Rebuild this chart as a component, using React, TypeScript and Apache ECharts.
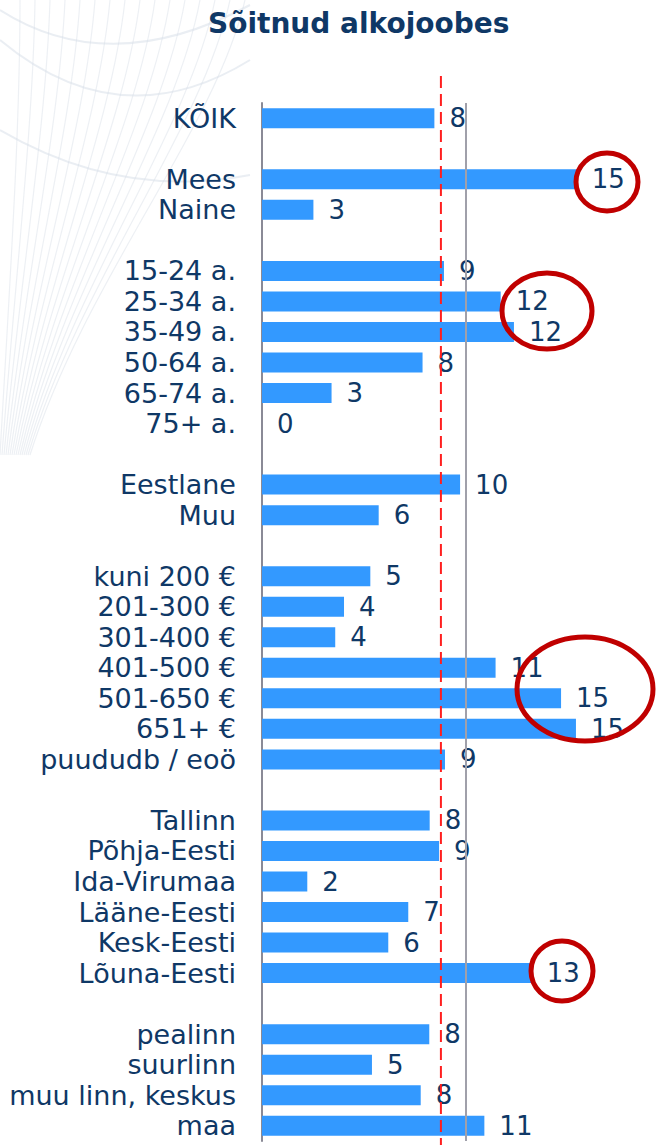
import React, { useEffect, useRef } from 'react';
import * as echarts from 'echarts';

const FONT = 'Verdana, "DejaVu Sans", sans-serif';
const NAVY = '#0F3866';

// Groups of categories and their values (percent)
const totalCats = ['KÕIK'];
const totalVals = [8.45];
const sexCats = ['Mees', 'Naine'];
const sexVals = [15.43, 2.52];
const ageCats = ['15-24 a.', '25-34 a.', '35-49 a.', '50-64 a.', '65-74 a.', '75+ a.'];
const ageVals = [8.92, 11.7, 12.35, 7.87, 3.41, 0];
const nationCats = ['Eestlane', 'Muu'];
const nationVals = [9.71, 5.72];
const incomeCats = ['kuni 200 €', '201-300 €', '301-400 €', '401-500 €', '501-650 €', '651+ €', 'puududb / eoö'];
const incomeVals = [5.31, 4.02, 3.59, 11.45, 14.66, 15.39, 8.97];
const regionCats = ['Tallinn', 'Põhja-Eesti', 'Ida-Virumaa', 'Lääne-Eesti', 'Kesk-Eesti', 'Lõuna-Eesti'];
const regionVals = [8.22, 8.68, 2.22, 7.17, 6.19, 13.22];
const settleCats = ['pealinn', 'suurlinn', 'muu linn, keskus', 'maa'];
const settleVals = [8.2, 5.39, 7.78, 10.9];

const REF_VALUE = 8.77; // red dashed reference
const GRAY_LINE_VALUE = 10;
const X_MAX = 18;

const groups: [string[], number[]][] = [
  [totalCats, totalVals],
  [sexCats, sexVals],
  [ageCats, ageVals],
  [nationCats, nationVals],
  [incomeCats, incomeVals],
  [regionCats, regionVals],
  [settleCats, settleVals],
];

const categories: string[] = [];
const values: (number | string)[] = [];
groups.forEach(([c, v], gi) => {
  if (gi > 0) {
    categories.push(' '.repeat(gi));
    values.push('-');
  }
  c.forEach((name, i) => {
    categories.push(name);
    values.push(v[i]);
  });
});

function buildBackground() {
  const els: any[] = [];
  for (let i = 0; i < 16; i++) {
    els.push({
      type: 'bezierCurve',
      silent: true,
      z: -10,
      shape: {
        x1: i * 2,
        y1: 455,
        x2: 20 + i * 15,
        y2: 0,
        cpx1: 10 + i * 5,
        cpy1: 280,
        cpx2: 20 + i * 13,
        cpy2: 130,
      },
      style: { stroke: 'rgba(214,221,231,0.45)', lineWidth: 1.2, fill: 'none' },
    });
  }
  const arcs = [
    [0, 10, 110, 80, 250, 5],
    [0, 40, 120, 140, 250, 60],
    [0, 130, 120, 200, 250, 175],
  ];
  arcs.forEach(([x1, y1, cx, cy, x2, y2]) => {
    els.push({
      type: 'bezierCurve',
      silent: true,
      z: -10,
      shape: { x1, y1, x2, y2, cpx1: cx, cpy1: cy },
      style: { stroke: 'rgba(214,221,231,0.5)', lineWidth: 2, fill: 'none' },
    });
  });
  return els;
}

function circle(cx: number, cy: number, rx: number, ry: number) {
  return {
    type: 'ellipse',
    silent: true,
    z: 20,
    shape: { cx, cy, rx, ry },
    style: { stroke: '#C00000', lineWidth: 5, fill: 'none' },
  };
}

function baseOption(): any {
  return {
    animation: false,
    backgroundColor: '#ffffff',
    textStyle: { fontFamily: FONT },
    title: {
      text: 'Sõitnud alkojoobes',
      left: 203,
      top: 4,
      textStyle: { fontFamily: FONT, fontSize: 28, fontWeight: 'bold', color: NAVY },
    },
    grid: { left: 262, top: 103, height: 1038, width: 20.4 * X_MAX, containLabel: false },
    xAxis: {
      type: 'value',
      min: 0,
      max: X_MAX,
      show: false,
      splitLine: { show: false },
    },
    yAxis: {
      type: 'category',
      inverse: true,
      data: categories,
      axisTick: { show: false },
      axisLine: { show: true, lineStyle: { color: '#8A8A96', width: 2 } },
      axisLabel: { color: NAVY, fontSize: 27, fontFamily: FONT, margin: 26, interval: 0 },
    },
    series: [
      {
        type: 'bar',
        data: values,
        barWidth: 20,
        itemStyle: { color: '#3399FF' },
        label: {
          show: true,
          position: 'right',
          distance: 15,
          color: NAVY,
          fontSize: 26,
          fontFamily: FONT,
          formatter: (p: any) => String(Math.round(p.value)),
        },
        markLine: {
          silent: true,
          symbol: 'none',
          label: { show: false },
          lineStyle: { color: '#A0A0AA', width: 2, type: 'solid' },
          data: [{ xAxis: GRAY_LINE_VALUE }],
        },
      },
    ],
  };
}

export default function App() {
  const ref = useRef<HTMLDivElement>(null);
  useEffect(() => {
    const chart = echarts.init(ref.current!, null, { renderer: 'svg' });
    chart.setOption(baseOption());
    const xRef = chart.convertToPixel({ xAxisIndex: 0 }, REF_VALUE) as number;
    const opt = baseOption();
    opt.graphic = [
      ...buildBackground(),
      {
        type: 'line',
        silent: true,
        z: 15,
        shape: { x1: xRef, y1: 76, x2: xRef, y2: 1145 },
        style: { stroke: '#FF1F1F', lineWidth: 2, lineDash: [12, 6] },
      },
      circle(607, 182, 31, 29),
      circle(547, 311, 45, 38),
      circle(585, 689, 68, 52),
      circle(562, 971, 31, 30),
    ];
    chart.setOption(opt, true);
    return () => chart.dispose();
  }, []);
  return (
    <div
      ref={ref}
      style={{ position: 'absolute', left: 0, top: 0, width: 660, height: 1145 }}
    />
  );
}
